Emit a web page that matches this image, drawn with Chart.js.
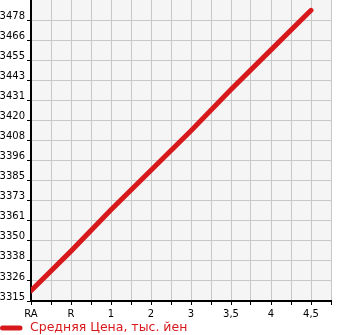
<!DOCTYPE html>
<html>
<head>
<meta charset="utf-8">
<script src="https://cdn.jsdelivr.net/npm/chart.js@4/dist/chart.umd.min.js"></script>
<style>
html,body{margin:0;padding:0;background:#fff;}
#wrap{width:345px;height:335px;position:relative;}
</style>
</head>
<body>
<div id="wrap"><canvas id="c" width="345" height="335"></canvas></div>
<script>
const categories = ["RA", "R", "1", "2", "3", "3,5", "4", "4,5"];
const avgPrice = [3321, 3344, 3368, 3391, 3414, 3438, 3461, 3484];
const yTickLabels = ["3315","3326","3338","3350","3361","3373","3385","3396","3408","3420","3431","3443","3455","3466","3478"];
const seriesName = "Средняя Цена, тыс. йен";

const yMin = 3315, yStep = 35/3;
const RED = '#d7191c';

const bgPlugin = {
  id: 'bg',
  beforeDraw(chart) {
    const {ctx, chartArea: a} = chart;
    ctx.save();
    ctx.fillStyle = '#f5f5f5';
    ctx.fillRect(a.left, a.top, a.right - a.left, a.bottom - a.top);
    ctx.restore();
  }
};

const legendPlugin = {
  id: 'customLegend',
  afterDraw(chart) {
    const {ctx} = chart;
    const ds = chart.data.datasets[0];
    const y = 328;
    ctx.save();
    ctx.strokeStyle = ds.borderColor;
    ctx.lineWidth = ds.borderWidth;
    ctx.lineCap = 'round';
    ctx.beginPath();
    ctx.moveTo(2.5, y);
    ctx.lineTo(20, y);
    ctx.stroke();
    ctx.fillStyle = ds.borderColor;
    ctx.font = '12.5px "DejaVu Sans"';
    ctx.textBaseline = 'middle';
    ctx.textAlign = 'left';
    ctx.fillText(ds.label, 30, y);
    ctx.restore();
  }
};

new Chart(document.getElementById('c'), {
  type: 'line',
  data: {
    datasets: [{
      label: seriesName,
      data: categories.map((c, i) => ({x: i, y: avgPrice[i]})),
      borderColor: RED,
      backgroundColor: RED,
      borderWidth: 5,
      borderCapStyle: 'round',
      pointRadius: 0,
      tension: 0
    }]
  },
  options: {
    responsive: false,
    animation: false,
    layout: {padding: {left: 0, right: 14, top: 0, bottom: 0}},
    plugins: {
      tooltip: {enabled: false},
      legend: {display: false}
    },
    scales: {
      x: {
        type: 'linear',
        min: 0,
        max: 7.5,
        afterBuildTicks(scale) {
          const t = [];
          for (let v = 0; v <= 7.5; v += 0.5) t.push({value: v});
          scale.ticks = t;
        },
        afterFit(scale) { scale.height = 34; },
        grid: {color: '#c8c8c8', lineWidth: 1, tickLength: 4, tickColor: '#000'},
        border: {color: '#000', width: 2},
        ticks: {
          autoSkip: false,
          maxRotation: 0,
          padding: 3,
          color: '#000',
          font: {family: 'DejaVu Sans', size: 10},
          callback(v) { return Number.isInteger(v) ? (categories[v] ?? '') : ''; }
        }
      },
      y: {
        min: yMin,
        max: yMin + 15 * yStep,
        afterBuildTicks(scale) {
          scale.ticks = yTickLabels.map((l, i) => ({value: yMin + i * yStep}));
        },
        afterFit(scale) { scale.width = 31; scale.paddingTop = 0; scale.paddingBottom = 0; },
        grid: {color: '#c8c8c8', lineWidth: 1, tickLength: 4, tickColor: '#000'},
        border: {color: '#000', width: 2},
        ticks: {
          autoSkip: false,
          padding: 2,
          labelOffset: -4,
          color: '#000',
          font: {family: 'DejaVu Sans', size: 10},
          callback(v, i) { return yTickLabels[i]; }
        }
      }
    }
  },
  plugins: [bgPlugin, legendPlugin]
});
</script>
</body>
</html>
